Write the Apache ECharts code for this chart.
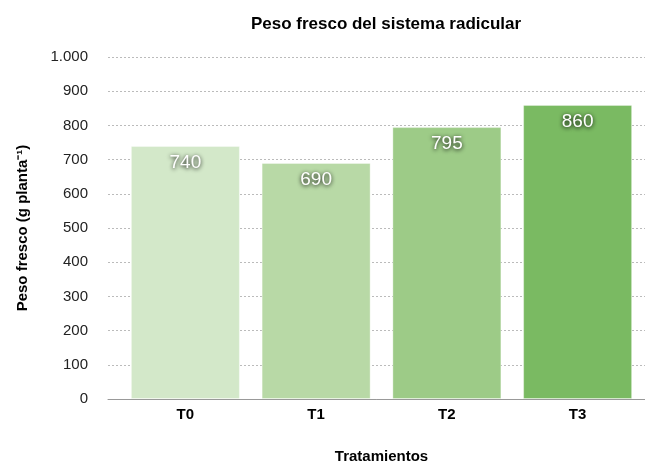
<!DOCTYPE html>
<html><head><meta charset="utf-8">
<script src="https://cdn.jsdelivr.net/npm/echarts@6/dist/echarts.min.js"></script>
<style>html,body{margin:0;padding:0;background:#fff}#c{width:645px;height:462px}</style>
</head><body><div id="c"></div>
<script>
const categories = ['T0', 'T1', 'T2', 'T3'];
const values = [740, 690, 795, 860];
const barColors = ['#d3e8c9', '#b8d9a6', '#9dcb87', '#7aba62'];
const yTicks = { min: 0, max: 1000, interval: 100 };

const chart = echarts.init(document.getElementById('c'));
const F = 'Liberation Sans, Arial, Helvetica, sans-serif';
chart.setOption({
  animation: false,
  title: {
    text: 'Peso fresco del sistema radicular',
    left: 381, top: 11, textAlign: 'center',
    textStyle: { fontFamily: F, fontSize: 17, fontWeight: 'bold', color: '#000' }
  },
  grid: [
    { left: 120, right: 2, top: 57, bottom: 63, containLabel: false, outerBoundsMode: 'none' },
    { left: 108, right: 0, top: 57, bottom: 63, containLabel: false, outerBoundsMode: 'none' }
  ],
  xAxis: [
    {
      type: 'category', gridIndex: 0, data: categories,
      axisLine: { show: false }, axisTick: { show: false },
      axisLabel: { fontFamily: F, fontSize: 15, fontWeight: 'bold', color: '#000', margin: 8 },
      name: 'Tratamientos', nameLocation: 'middle', nameGap: 50,
      nameTextStyle: { fontFamily: F, fontSize: 15, fontWeight: 'bold', color: '#000' }
    },
    {
      type: 'value', gridIndex: 1, min: 0, max: 1,
      axisLine: { show: true, lineStyle: { color: '#999', width: 1 } },
      axisTick: { show: false }, axisLabel: { show: false }, splitLine: { show: false }
    }
  ],
  yAxis: [
    {
      type: 'value', gridIndex: 0, min: yTicks.min, max: yTicks.max, interval: yTicks.interval,
      axisLabel: { show: false }, splitLine: { show: false }, axisLine: { show: false }, axisTick: { show: false }
    },
    {
      type: 'value', gridIndex: 1, min: yTicks.min, max: yTicks.max, interval: yTicks.interval,
      axisLine: { show: false }, axisTick: { show: false },
      axisLabel: {
        fontFamily: F, fontSize: 15, color: '#222', margin: 20,
        formatter: v => v >= 1000 ? String(v).replace(/\B(?=(\d{3})+(?!\d))/g, '.') : String(v)
      },
      splitLine: { show: true, lineStyle: { color: '#bbb', type: [2, 2], width: 1 } },
      name: 'Peso fresco (g planta⁻¹)', nameLocation: 'middle', nameGap: 78, nameRotate: 90,
      nameTextStyle: { fontFamily: F, fontSize: 15, fontWeight: 'bold', color: '#000' }
    }
  ],
  series: [{
    type: 'bar', xAxisIndex: 0, yAxisIndex: 0, z: 5,
    data: values.map((v, i) => ({ value: v, itemStyle: { color: barColors[i] } })),
    barWidth: 109,
    itemStyle: { borderColor: 'rgba(255,255,255,0.35)', borderWidth: 1 },
    label: {
      show: true, position: 'insideTop', distance: 7,
      fontFamily: F, fontSize: 19, color: '#fff',
      textShadowColor: 'rgba(0,0,0,1)', textShadowBlur: 4, textShadowOffsetX: 0, textShadowOffsetY: 1
    }
  }]
});
</script></body></html>
